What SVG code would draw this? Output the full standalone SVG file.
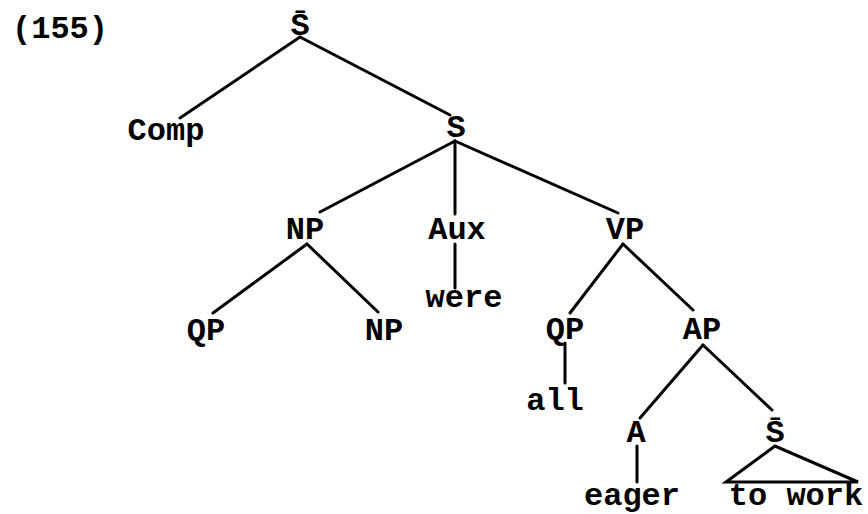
<svg xmlns="http://www.w3.org/2000/svg" width="868" height="514" viewBox="0 0 868 514">
<style>
text{font-family:"Liberation Mono","Courier New",monospace;font-size:32px;font-weight:bold;fill:#000;text-anchor:middle}
.e line,.e path{stroke:#000;stroke-width:3;fill:none;stroke-linecap:round}
.bar{stroke:#000;stroke-width:3}
</style>
<rect width="868" height="514" fill="#fff"/>
<text x="12" y="38" style="text-anchor:start">(155)</text>
<g class="e" id="edges">
<line x1="300" y1="37" x2="180" y2="118"/>
<line x1="300" y1="37" x2="450" y2="115"/>
<line x1="455" y1="141" x2="320" y2="212"/>
<line x1="455" y1="141" x2="455" y2="214"/>
<line x1="455" y1="141" x2="618" y2="213"/>
<line x1="307" y1="244" x2="213" y2="313"/>
<line x1="307" y1="244" x2="378" y2="312"/>
<line x1="455" y1="244" x2="455" y2="288"/>
<line x1="623" y1="244" x2="570" y2="313"/>
<line x1="623" y1="244" x2="693" y2="310"/>
<line x1="565" y1="343" x2="565" y2="383"/>
<line x1="703" y1="345" x2="640" y2="418"/>
<line x1="703" y1="345" x2="772" y2="410"/>
<line x1="637" y1="446" x2="637" y2="482"/>
<path d="M775 446 L726 482 L858 482 Z"/>
</g>
<g id="n_sbar"><text x="300" y="35">S̄</text></g>
<g id="n_comp"><text x="166" y="140">Comp</text></g>
<g id="n_s"><text x="456" y="137">S</text></g>
<g id="n_np"><text x="305" y="239">NP</text></g>
<g id="n_aux"><text x="457" y="239">Aux</text></g>
<g id="n_vp"><text x="625" y="239">VP</text></g>
<g id="n_qp1"><text x="206" y="340">QP</text></g>
<g id="n_np2"><text x="384" y="340">NP</text></g>
<g id="n_were"><text x="464" y="307">were</text></g>
<g id="n_qp2"><text x="565" y="339">QP</text></g>
<g id="n_ap"><text x="702" y="339">AP</text></g>
<g id="n_all"><text x="555" y="410">all</text></g>
<g id="n_a"><text x="636" y="442">A</text></g>
<g id="n_sbar2"><text x="775" y="442">S̄</text></g>
<g id="n_eager"><text x="632" y="505">eager</text></g>
<g id="n_towork"><text x="796" y="505">to work</text></g>
</svg>
